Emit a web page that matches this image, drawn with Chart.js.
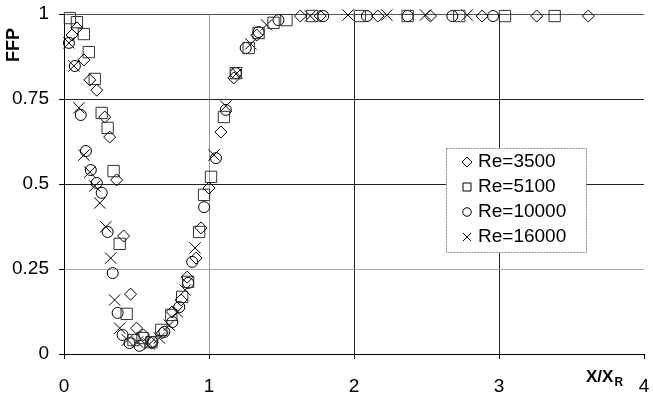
<!DOCTYPE html>
<html>
<head>
<meta charset="utf-8">
<script src="https://cdn.jsdelivr.net/npm/chart.js@4.4.0/dist/chart.umd.min.js"></script>
<style>
  html, body { margin: 0; background: #fff; }
  #wrap { width: 653px; height: 397px; }
</style>
</head>
<body>
<div id="wrap"><canvas id="ffp"></canvas></div>
<script>
// Data: [X/XR, FFP]
const xTicks = [0, 1, 2, 3, 4];
const yTicks = [0, 0.25, 0.5, 0.75, 1];
const seriesNames = ['Re=3500', 'Re=5100', 'Re=10000', 'Re=16000'];

const re3500 = [
  [0.055,0.938],[0.089,0.959],[0.137,0.865],[0.178,0.806],[0.226,0.776],[0.281,0.697],
  [0.315,0.638],[0.363,0.512],[0.411,0.347],[0.459,0.176],[0.500,0.076],[0.548,0.056],
  [0.603,0.032],[0.678,0.062],[0.747,0.124],[0.808,0.159],[0.849,0.226],[0.911,0.282],
  [0.945,0.371],[1.000,0.488],[1.082,0.653],[1.171,0.812],[1.329,0.938],[1.630,0.994],
  [1.767,0.994],[2.164,0.994],[2.527,0.994],[2.884,0.994],[3.260,0.994],[3.616,0.994]
];
const re5100 = [
  [0.041,0.988],[0.089,0.976],[0.137,0.941],[0.171,0.888],[0.212,0.809],[0.260,0.709],
  [0.301,0.665],[0.342,0.538],[0.384,0.324],[0.432,0.118],[0.479,0.041],[0.541,0.047],
  [0.603,0.035],[0.671,0.071],[0.740,0.115],[0.815,0.168],[0.856,0.212],[0.932,0.359],
  [0.966,0.468],[1.014,0.521],[1.103,0.697],[1.185,0.826],[1.274,0.900],[1.342,0.944],
  [1.445,0.974],[1.534,0.982],[1.712,0.994],[2.041,0.994],[2.370,0.994],[2.726,0.994],
  [3.041,0.994],[3.384,0.994]
];
const re10000 = [
  [0.034,0.915],[0.075,0.847],[0.116,0.703],[0.151,0.597],[0.185,0.541],[0.226,0.503],
  [0.260,0.474],[0.301,0.359],[0.336,0.238],[0.370,0.121],[0.404,0.056],[0.452,0.032],
  [0.521,0.024],[0.610,0.035],[0.692,0.065],[0.747,0.094],[0.795,0.138],[0.856,0.209],
  [0.884,0.271],[0.966,0.432],[1.048,0.576],[1.116,0.718],[1.185,0.826],[1.253,0.900],
  [1.342,0.947],[1.479,0.982],[1.788,0.994],[2.089,0.994],[2.370,0.994],[2.678,0.994],
  [2.959,0.994]
];
const re16000 = [
  [0.034,0.915],[0.068,0.847],[0.103,0.724],[0.137,0.585],[0.178,0.535],[0.212,0.494],
  [0.247,0.444],[0.288,0.374],[0.322,0.282],[0.349,0.159],[0.384,0.076],[0.438,0.041],
  [0.507,0.035],[0.589,0.029],[0.658,0.047],[0.726,0.085],[0.781,0.124],[0.836,0.188],
  [0.904,0.312],[1.034,0.585],[1.116,0.729],[1.192,0.826],[1.288,0.912],[1.397,0.968],
  [1.699,0.994],[1.959,0.997],[2.226,0.997],[2.493,0.997],[2.781,0.997]
];

const FONT = "'Liberation Sans', Arial, sans-serif";
const toXY = arr => arr.map(([x, y]) => ({ x, y }));

const styles = [
  { pointStyle: 'rectRot',  radius: 6   },
  { pointStyle: 'rect',     radius: 8   },
  { pointStyle: 'circle',   radius: 5.5 },
  { pointStyle: 'crossRot', radius: 8   }
];
const seriesData = [re3500, re5100, re10000, re16000];

// small hollow marker for the legend box
function marker(ctx, style, x, y, r) {
  ctx.beginPath();
  if (style === 'rectRot') {
    ctx.moveTo(x, y - r); ctx.lineTo(x + r, y); ctx.lineTo(x, y + r); ctx.lineTo(x - r, y); ctx.closePath();
  } else if (style === 'rect') {
    ctx.rect(x - r * 0.8, y - r * 0.8, r * 1.6, r * 1.6);
  } else if (style === 'circle') {
    ctx.arc(x, y, r * 0.85, 0, Math.PI * 2);
  } else {
    ctx.moveTo(x - r * 0.8, y - r * 0.8); ctx.lineTo(x + r * 0.8, y + r * 0.8);
    ctx.moveTo(x + r * 0.8, y - r * 0.8); ctx.lineTo(x - r * 0.8, y + r * 0.8);
  }
  ctx.stroke();
}

const decor = {
  id: 'decor',
  afterDraw(chart) {
    const ctx = chart.ctx;
    ctx.save();
    // legend box
    ctx.fillStyle = '#fff';
    ctx.fillRect(446, 148, 140, 104);
    ctx.strokeStyle = '#888';
    ctx.lineWidth = 1;
    ctx.setLineDash([2, 1]);
    ctx.strokeRect(446.5, 148.5, 140, 104);
    ctx.setLineDash([]);
    ctx.strokeStyle = '#000';
    ctx.fillStyle = '#000';
    ctx.font = `19px ${FONT}`;
    ctx.textBaseline = 'middle';
    ctx.textAlign = 'left';
    seriesNames.forEach((name, i) => {
      const yy = 162 + i * 25;
      marker(ctx, styles[i].pointStyle, 467, yy, 5);
      ctx.fillText(name, 478, yy);
    });
    // y title
    ctx.save();
    ctx.translate(14, 45);
    ctx.rotate(-Math.PI / 2);
    ctx.font = `bold 18px ${FONT}`;
    ctx.textAlign = 'center';
    ctx.fillText('FFP', 0, 0);
    ctx.restore();
    // x title with subscript
    ctx.font = `bold 17px ${FONT}`;
    ctx.textAlign = 'left';
    ctx.fillText('X/X', 586, 377);
    const w = ctx.measureText('X/X').width;
    ctx.font = `bold 12px ${FONT}`;
    ctx.fillText('R', 586 + w + 1, 383);
    ctx.restore();
  }
};

new Chart(document.getElementById('ffp'), {
  type: 'scatter',
  data: {
    datasets: seriesData.map((d, i) => ({
      label: seriesNames[i],
      data: toXY(d),
      pointStyle: styles[i].pointStyle,
      pointRadius: styles[i].radius,
      pointHoverRadius: styles[i].radius,
      pointBorderWidth: 1,
      borderColor: i === 1 ? '#333' : '#000',
      backgroundColor: 'rgba(0,0,0,0)',
      showLine: false,
      clip: false
    }))
  },
  options: {
    responsive: true, maintainAspectRatio: false, animation: false,
    layout: { padding: { top: 14, right: 5, left: 0, bottom: 0 } },
    plugins: { legend: { display: false }, tooltip: { enabled: false } },
    scales: {
      x: {
        type: 'linear', min: 0, max: 4,
        afterBuildTicks: s => { s.ticks = xTicks.map(v => ({ value: v })); },
        afterFit: s => { s.height = 43; s.paddingLeft = 0; s.paddingRight = 0; },
        border: { color: '#000', width: 1 },
        grid: {
          color: c => c.tick && (c.tick.value === 0 || c.tick.value === 4) ? 'rgba(0,0,0,0)'
                   : (c.tick && c.tick.value === 1 ? '#999' : '#222'),
          tickColor: '#000', tickLength: 5
        },
        ticks: { color: '#000', font: { family: FONT, size: 19 }, padding: 16, maxRotation: 0,
                 callback: v => String(v) }
      },
      y: {
        type: 'linear', min: 0, max: 1,
        afterBuildTicks: s => { s.ticks = yTicks.map(v => ({ value: v })); },
        afterFit: s => { s.width = 64; s.paddingTop = 0; s.paddingBottom = 0; },
        border: { color: '#000', width: 1 },
        grid: {
          color: c => !c.tick || c.tick.value === 0 ? 'rgba(0,0,0,0)'
                   : (c.tick.value === 0.25 ? '#aaa' : (c.tick.value === 1 ? '#555' : '#222')),
          tickColor: '#000', tickLength: 5
        },
        ticks: { color: '#000', font: { family: FONT, size: 19 }, padding: 10,
                 callback: v => String(v) }
      }
    }
  },
  plugins: [decor]
});
</script>
</body>
</html>
